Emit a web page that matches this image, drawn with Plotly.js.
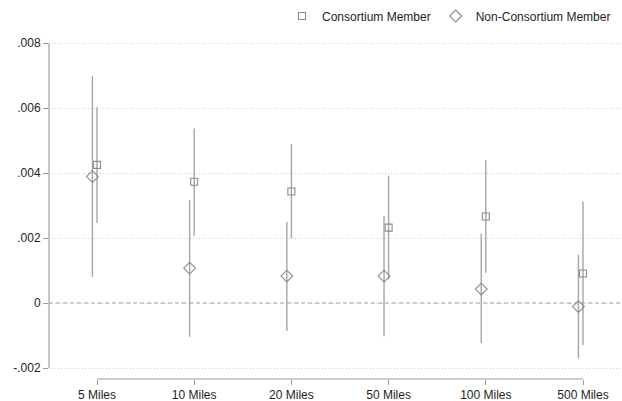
<!DOCTYPE html>
<html>
<head>
<meta charset="utf-8">
<script src="https://cdn.plot.ly/plotly-3.0.1.min.js"></script>
<style>html,body{margin:0;padding:0;background:#fff;}#chart{width:622px;height:401px;}</style>
</head>
<body>
<div id="chart"></div>
<script>
const categories = ['5 Miles', '10 Miles', '20 Miles', '50 Miles', '100 Miles', '500 Miles'];
const consEst = [0.00425, 0.00373, 0.00343, 0.00232, 0.00266, 0.00091];
const consLo  = [0.00246, 0.00207, 0.00199, 0.00073, 0.00093, -0.00129];
const consHi  = [0.00603, 0.00537, 0.00489, 0.00392, 0.00440, 0.00312];
const nonEst  = [0.00389, 0.00107, 0.00083, 0.00083, 0.00043, -0.00011];
const nonLo   = [0.00080, -0.00104, -0.00086, -0.00102, -0.00124, -0.00170];
const nonHi   = [0.00698, 0.00317, 0.00250, 0.00268, 0.00214, 0.00148];
const yTickVals = [-0.002, 0, 0.002, 0.004, 0.006, 0.008];
const yTickText = ['-.002', '0', '.002', '.004', '.006', '.008'];
const seriesNames = ['Consortium Member', 'Non-Consortium Member'];

const pos = categories.map((c, i) => i + 1);
const nonOffset = -0.047;
const lineGray = '#a6a6a6';
const markGray = '#8a8a8a';

function errBar(est, lo, hi) {
  return {
    type: 'data', symmetric: false,
    array: hi.map((h, i) => h - est[i]),
    arrayminus: lo.map((l, i) => est[i] - l),
    width: 0, thickness: 1.4, color: lineGray
  };
}

const traces = [
  {
    type: 'scatter', mode: 'markers', name: seriesNames[0],
    x: pos, y: consEst,
    error_y: errBar(consEst, consLo, consHi),
    marker: {symbol: 'square-open', size: 7, color: markGray, line: {width: 1.1}},
    hoverinfo: 'skip'
  },
  {
    type: 'scatter', mode: 'markers', name: seriesNames[1],
    x: pos.map(p => p + nonOffset), y: nonEst,
    error_y: errBar(nonEst, nonLo, nonHi),
    marker: {symbol: 'diamond-open', size: 9, color: markGray, line: {width: 1.1}},
    hoverinfo: 'skip'
  }
];

const pxPerCat = 97.2;
const plotLeft = 49, plotW = 573;
const xLeft = 1 - (97 - plotLeft) / pxPerCat;
const xRight = xLeft + plotW / pxPerCat;
const pxPerUnit = 325 / (yTickVals[yTickVals.length - 1] - yTickVals[0]);
const yTop = yTickVals[yTickVals.length - 1] + 3 / pxPerUnit;
const yBot = yTickVals[0] - 11 / pxPerUnit;

const layout = {
  width: 622, height: 401,
  margin: {l: plotLeft, r: 0, t: 40, b: 22},
  paper_bgcolor: '#ffffff', plot_bgcolor: '#ffffff',
  font: {family: '"Liberation Sans", Arial, Helvetica, sans-serif', size: 12, color: '#1e1e1e'},
  showlegend: true,
  legend: {
    orientation: 'h', x: (282 - plotLeft) / plotW, xanchor: 'left', y: 1 + 24 / 339, yanchor: 'middle',
    font: {size: 12, color: '#1e1e1e'}, bgcolor: 'rgba(0,0,0,0)', itemclick: false
  },
  xaxis: {
    range: [xLeft, xRight], tickmode: 'array', tickvals: pos, ticktext: categories,
    ticks: 'outside', ticklen: 5, tickcolor: '#999999', tickwidth: 1,
    showgrid: false, zeroline: false, showline: false, automargin: false,
    tickfont: {size: 12, color: '#1e1e1e'}, fixedrange: true
  },
  yaxis: {
    range: [yBot, yTop], tickmode: 'array', tickvals: yTickVals, ticktext: yTickText,
    ticks: 'outside', ticklen: 5, tickcolor: '#999999', tickwidth: 1,
    showgrid: true, gridcolor: '#d0d0d0', griddash: '1px,2px', gridwidth: 1,
    zeroline: false, showline: false, automargin: false,
    tickfont: {size: 12, color: '#1e1e1e'}, fixedrange: true
  },
  shapes: [
    {type: 'line', xref: 'paper', yref: 'y', x0: 0, x1: 0,
     y0: yTickVals[0], y1: yTickVals[yTickVals.length - 1], line: {color: '#a0a0a0', width: 1.2}},
    {type: 'line', xref: 'x', yref: 'paper', x0: pos[0], x1: pos[pos.length - 1],
     y0: 0, y1: 0, line: {color: '#a0a0a0', width: 1.2}},
    {type: 'line', xref: 'paper', yref: 'y', x0: 0, x1: 1, y0: 0, y1: 0, layer: 'below',
     line: {color: '#ffffff', width: 2}},
    {type: 'line', xref: 'paper', yref: 'y', x0: 0, x1: 1, y0: 0, y1: 0, layer: 'below',
     line: {color: '#9a9a9a', width: 1.2, dash: '4px,3px'}}
  ]
};

Plotly.newPlot('chart', traces, layout, {displayModeBar: false, staticPlot: true});
</script>
</body>
</html>
